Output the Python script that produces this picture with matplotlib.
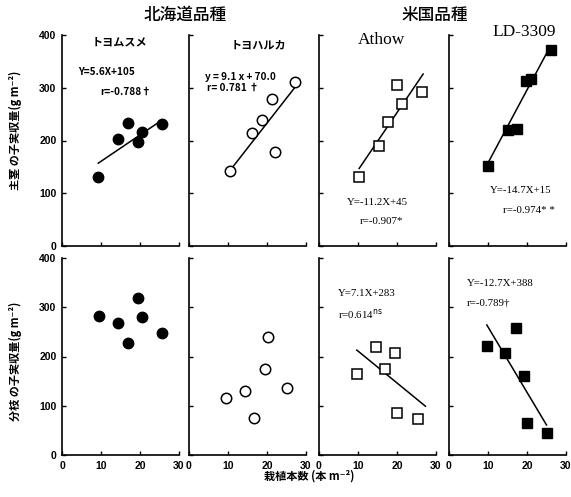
import matplotlib
matplotlib.use('Agg')
import matplotlib.pyplot as plt

plt.rcParams['font.family'] = ['Liberation Sans', 'Noto Sans CJK JP', 'DejaVu Sans']
plt.rcParams['mathtext.fontset'] = 'dejavusans'

JP = ['Noto Sans CJK JP', 'DejaVu Sans']
SERIF = ['Liberation Serif', 'DejaVu Serif']

# ---- data ----
x_ticks = [0, 10, 20, 30]
y_ticks = [0, 100, 200, 300, 400]
group_titles = ['北海道品種', '米国品種']
cultivars = ['トヨムスメ', 'トヨハルカ', 'Athow', 'LD-3309']

# main-stem seed yield (g m-2) vs planting density
tm_main_x = [9.3, 14.4, 16.8, 19.6, 20.4, 25.7]
tm_main_y = [130, 202, 233, 197, 216, 231]
th_main_x = [10.5, 16.1, 18.6, 21.2, 22.1, 27.2]
th_main_y = [143, 214, 238, 279, 178, 310]
at_main_x = [10.3, 15.3, 17.6, 20.1, 21.2, 26.3]
at_main_y = [130, 190, 235, 305, 269, 291]
ld_main_x = [9.9, 15.1, 17.4, 19.7, 20.9, 26.2]
ld_main_y = [152, 220, 222, 313, 317, 372]

# branch seed yield (g m-2)
tm_branch_x = [9.6, 14.4, 16.8, 19.4, 20.4, 25.7]
tm_branch_y = [283, 269, 227, 319, 281, 248]
th_branch_x = [9.5, 14.4, 16.7, 19.5, 20.2, 25.2]
th_branch_y = [115, 129, 75, 175, 240, 137]
at_branch_x = [9.7, 14.7, 16.9, 19.4, 20.0, 25.3]
at_branch_y = [164, 220, 175, 208, 86, 73]
ld_branch_x = [9.8, 14.4, 17.1, 19.2, 20.0, 25.1]
ld_branch_y = [221, 208, 257, 161, 64, 45]

# regression lines as drawn (end points)
tm_main_fit_x = [9.3, 25.7]
tm_main_fit_y = [157, 239]
th_main_fit_x = [10.5, 27.4]
th_main_fit_y = [143, 303]
at_main_fit_x = [10.3, 26.7]
at_main_fit_y = [147, 326]
ld_main_fit_x = [9.1, 25.5]
ld_main_fit_y = [145, 372]
at_branch_fit_x = [9.7, 27.3]
at_branch_fit_y = [213, 99]
ld_branch_fit_x = [9.7, 25.0]
ld_branch_fit_y = [264, 61]

# regression equations
tm_main_eq = ['Y=5.6X+105', 'r=-0.788†']
th_main_eq = ['y = 9.1 x + 70.0', 'r= 0.781 †']
at_main_eq = ['Y=-11.2X+45', 'r=-0.907*']
ld_main_eq = ['Y=-14.7X+15', 'r=-0.974* *']
at_branch_eq = ['Y=7.1X+283', r'r=0.614$^{\mathrm{ns}}$']
ld_branch_eq = ['Y=-12.7X+388', 'r=-0.789†']

# ---- figure ----
W, H = 571, 497
fig = plt.figure(figsize=(W / 100, H / 100), dpi=100)

col_left = [62, 189, 319, 449]
col_w = 117
rows = [(35, 246), (258, 455)]  # (top px, bottom px)

styles = [
    dict(marker='o', ms=7.5, mfc='black', mec='black', mew=1.0),
    dict(marker='o', ms=7.5, mfc='white', mec='black', mew=1.1),
    dict(marker='s', ms=7.5, mfc='white', mec='black', mew=1.1),
    dict(marker='s', ms=7.5, mfc='black', mec='black', mew=1.0),
]

main_sets = [(tm_main_x, tm_main_y), (th_main_x, th_main_y),
             (at_main_x, at_main_y), (ld_main_x, ld_main_y)]
branch_sets = [(tm_branch_x, tm_branch_y), (th_branch_x, th_branch_y),
               (at_branch_x, at_branch_y), (ld_branch_x, ld_branch_y)]
main_fits = [(tm_main_fit_x, tm_main_fit_y), (th_main_fit_x, th_main_fit_y),
             (at_main_fit_x, at_main_fit_y), (ld_main_fit_x, ld_main_fit_y)]
branch_fits = [None, None, (at_branch_fit_x, at_branch_fit_y),
               (ld_branch_fit_x, ld_branch_fit_y)]

# text placements (axes fraction): (x, y) for line 1 and line 2
main_eq = [tm_main_eq, th_main_eq, at_main_eq, ld_main_eq]
main_eq_pos = [[(0.137, 0.825), (0.325, 0.73)],
               [(0.137, 0.80), (0.154, 0.749)],
               [(0.24, 0.205), (0.35, 0.115)],
               [(0.35, 0.265), (0.46, 0.166)]]
branch_eq = [None, None, at_branch_eq, ld_branch_eq]
branch_eq_pos = [None, None,
                 [(0.162, 0.822), (0.162, 0.716)],
                 [(0.154, 0.873), (0.154, 0.772)]]
title_pos = [(0.487, 0.967), (0.59, 0.953), (0.53, 0.976), (0.64, 1.014)]


def make_ax(col, row):
    top, bot = rows[row]
    ax = fig.add_axes([col_left[col] / W, 1 - bot / H, col_w / W, (bot - top) / H])
    ax.set_xlim(0, 30)
    ax.set_ylim(0, 400)
    for s in ['top', 'right']:
        ax.spines[s].set_visible(False)
    for s in ['left', 'bottom']:
        ax.spines[s].set_linewidth(1.2)
    ax.set_xticks(x_ticks)
    ax.set_yticks(y_ticks)
    ax.tick_params(direction='in', length=3, width=1.0, labelsize=7.5, pad=4)
    if col != 0:
        ax.set_yticklabels([])
    if row == 0:
        ax.set_xticklabels([])
    for lab in ax.get_xticklabels() + ax.get_yticklabels():
        lab.set_fontweight('bold')
    ax.patch.set_alpha(0)
    return ax


for c in range(4):
    eq_font = dict(family=JP if c < 2 else SERIF, fontsize=7.2 if c < 2 else 7.8,
                   fontweight='bold' if c < 2 else 'normal')
    # main stem
    ax = make_ax(c, 0)
    fx, fy = main_fits[c]
    ax.plot(fx, fy, color='black', lw=1.1, zorder=2)
    x, y = main_sets[c]
    ax.plot(x, y, ls='none', zorder=3, clip_on=False, **styles[c])
    for txt, (tx, ty) in zip(main_eq[c], main_eq_pos[c]):
        ax.text(tx, ty, txt, transform=ax.transAxes, ha='left', va='center', **eq_font)
    if c < 2:
        ax.text(*title_pos[c], cultivars[c], transform=ax.transAxes, ha='center',
                va='center', family=JP, fontsize=8, fontweight='bold')
    else:
        ax.text(*title_pos[c], cultivars[c], transform=ax.transAxes, ha='center',
                va='center', family=SERIF, fontsize=12.5)
    # branch
    ax = make_ax(c, 1)
    if branch_fits[c] is not None:
        fx, fy = branch_fits[c]
        ax.plot(fx, fy, color='black', lw=1.1, zorder=2)
    x, y = branch_sets[c]
    ax.plot(x, y, ls='none', zorder=3, clip_on=False, **styles[c])
    if branch_eq[c] is not None:
        for txt, (tx, ty) in zip(branch_eq[c], branch_eq_pos[c]):
            ax.text(tx, ty, txt, transform=ax.transAxes, ha='left', va='center', **eq_font)

fig.text(185 / W, 1 - 15 / H, group_titles[0], ha='center', va='center',
         family=JP, fontsize=12, fontweight='medium')
fig.text(435 / W, 1 - 15 / H, group_titles[1], ha='center', va='center',
         family=JP, fontsize=12, fontweight='medium')

fig.text(15 / W, 1 - 130 / H, '主茎 の子実収量(g m⁻²)', rotation=90, ha='center',
         va='center', family=JP, fontsize=8, fontweight='bold')
fig.text(15 / W, 1 - 361 / H, '分枝 の子実収量(g m⁻²)', rotation=90, ha='center',
         va='center', family=JP, fontsize=8, fontweight='bold')
fig.text(309 / W, 1 - 476 / H, '栽植本数 (本 m⁻²)', ha='center', va='center',
         family=JP, fontsize=8, fontweight='bold')

fig.savefig('out.png', dpi=100, facecolor='white')
